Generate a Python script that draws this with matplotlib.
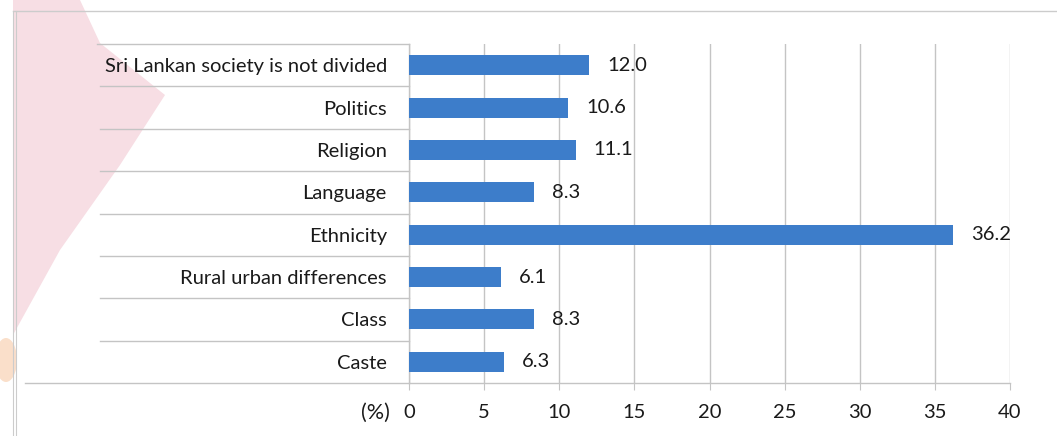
import matplotlib
matplotlib.use("Agg")
import matplotlib.pyplot as plt
import matplotlib.transforms as mtransforms
from matplotlib.patches import Polygon, Ellipse
from matplotlib.lines import Line2D
import numpy as np

categories = [
    "Sri Lankan society is not divided",
    "Politics",
    "Religion",
    "Language",
    "Ethnicity",
    "Rural urban differences",
    "Class",
    "Caste",
]
values = [12.0, 10.6, 11.1, 8.3, 36.2, 6.1, 8.3, 6.3]
x_ticks = [0, 5, 10, 15, 20, 25, 30, 35, 40]
unit_label = "(%)"

plt.rcParams["font.family"] = ["Lato", "DejaVu Sans"]

W, H = 1057, 436
fig = plt.figure(figsize=(W / 100, H / 100), dpi=100)


def fx(px):
    return px / W


def fy(py):
    return 1 - py / H


# faint background decoration on the left edge
fig.patches.append(Polygon(
    [(fx(13), fy(0)), (fx(80), fy(0)), (fx(100), fy(43)), (fx(165), fy(95)),
     (fx(120), fy(165)), (fx(60), fy(250)), (fx(13), fy(335))],
    closed=True, transform=fig.transFigure, facecolor="#F7DEE4",
    edgecolor="none", zorder=-5))
fig.patches.append(Ellipse((fx(6), fy(360)), fx(22), 44 / H,
                           transform=fig.transFigure, facecolor="#FADFCA",
                           edgecolor="none", zorder=-5))

# outer frame lines
frame_col = "#CCCCCC"
fig.add_artist(Line2D([fx(13), 1], [fy(11), fy(11)], transform=fig.transFigure,
                      color=frame_col, lw=1, zorder=-4))
for xp in (13, 16):
    fig.add_artist(Line2D([fx(xp), fx(xp)], [fy(11), 0],
                          transform=fig.transFigure, color=frame_col, lw=0.8,
                          zorder=-4))

ax = fig.add_axes([fx(409), fy(383), fx(1010) - fx(409), (383 - 44) / H])
y = np.arange(len(categories))
ax.barh(y, values, height=0.47, color="#3D7DCA", zorder=3)
ax.set_ylim(len(categories) - 0.5, -0.5)
ax.set_xlim(0, 40)
ax.set_xticks(x_ticks)
ax.set_yticks(y, categories)

grid_col = "#C4C4C4"
ax.grid(axis="x", color=grid_col, lw=1)
ax.set_axisbelow(True)
for s in ("top", "right"):
    ax.spines[s].set_visible(False)
for s in ("left", "bottom"):
    ax.spines[s].set_color(grid_col)
    ax.spines[s].set_linewidth(1)

text_col = "#1A1A1A"
fs = 14.5
ax.tick_params(axis="x", length=5, color=grid_col, labelsize=fs,
               labelcolor=text_col, pad=10)
ax.tick_params(axis="y", length=0, labelsize=fs, labelcolor=text_col, pad=16)

for yi, v in zip(y, values):
    ax.text(v + 1.2, yi, f"{v:.1f}", va="center", ha="left",
            fontsize=fs, color=text_col)

# row separators running through the label column
blend = mtransforms.blended_transform_factory(fig.transFigure, ax.transData)
edges = np.arange(len(categories) + 1) - 0.5
for e in edges:
    if e == edges[-1]:
        x0 = fx(25)
    elif e == edges[0]:
        x0 = fx(97)
    else:
        x0 = fx(100)
    ax.add_artist(Line2D([x0, fx(409)], [e, e], transform=blend,
                         color=grid_col, lw=1, clip_on=False))

fig.text(fx(390), fy(413), unit_label, ha="right", va="center",
         fontsize=15.5, color=text_col)

fig.savefig("out.png", dpi=100, facecolor="white")
